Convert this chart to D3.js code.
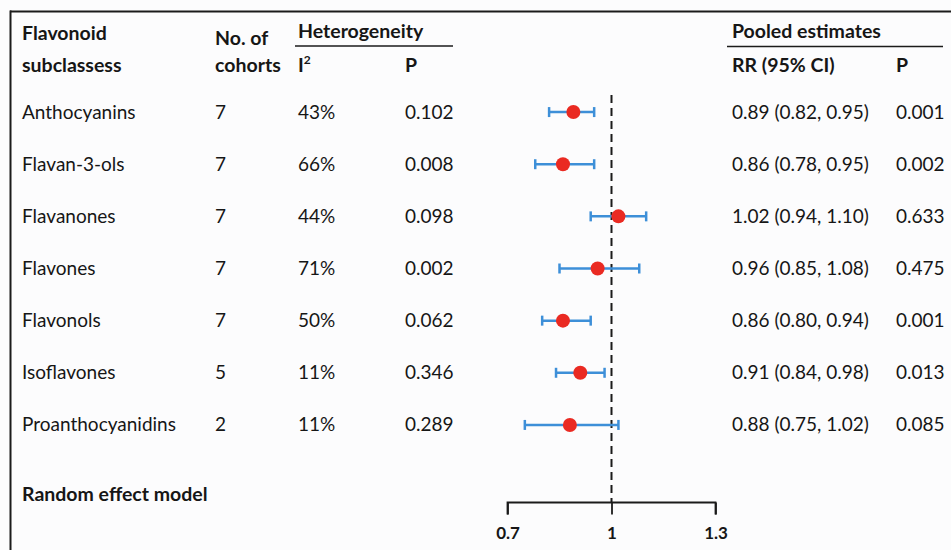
<!DOCTYPE html>
<html>
<head>
<meta charset="utf-8">
<script src="https://cdn.jsdelivr.net/npm/d3@7"></script>
<style>
  html, body { margin: 0; padding: 0; background: #fcfcfd; }
  svg { display: block; }
  text { font-family: Lato, "Open Sans", sans-serif; fill: #161616; }
</style>
</head>
<body>
<svg id="chart" width="951" height="550"></svg>
<script>
const subclasses = ["Anthocyanins", "Flavan-3-ols", "Flavanones", "Flavones", "Flavonols", "Isoflavones", "Proanthocyanidins"];
const cohorts = [7, 7, 7, 7, 7, 5, 2];
const i2 = ["43%", "66%", "44%", "71%", "50%", "11%", "11%"];
const hetP = ["0.102", "0.008", "0.098", "0.002", "0.062", "0.346", "0.289"];
const rr = [0.89, 0.86, 1.02, 0.96, 0.86, 0.91, 0.88];
const lower = [0.82, 0.78, 0.94, 0.85, 0.80, 0.84, 0.75];
const upper = [0.95, 0.95, 1.10, 1.08, 0.94, 0.98, 1.02];
const pooledP = ["0.001", "0.002", "0.633", "0.475", "0.001", "0.013", "0.085"];
const axisTicks = [0.7, 1, 1.3];

const svg = d3.select("#chart");
const fs = 19;
const fsb = 19.5;

const x = d3.scaleLinear().domain([0.7, 1.3]).range([507.5, 715.5]);
const y = d3.scaleBand().domain(subclasses).range([86, 451]).padding(0);
const yc = d => y(d) + y.bandwidth() / 2;

// frame (top and left border)
svg.append("line").attr("x1", 10).attr("x2", 951).attr("y1", 11.5).attr("y2", 11.5)
  .attr("stroke", "#1b1b1b").attr("stroke-width", 2);
svg.append("line").attr("x1", 10.5).attr("x2", 10.5).attr("y1", 10.5).attr("y2", 550)
  .attr("stroke", "#1b1b1b").attr("stroke-width", 2);

// column positions
const col = { name: 22, coh: 215, i2: 298, p: 405, rr: 732, pp: 896 };

// headers
const hdr = svg.append("g").attr("font-weight", "bold").attr("font-size", fsb);
hdr.append("text").attr("x", col.name).attr("y", 40).text("Flavonoid");
hdr.append("text").attr("x", col.name).attr("y", 72).text("subclassess");
hdr.append("text").attr("x", col.coh).attr("y", 45).text("No. of");
hdr.append("text").attr("x", col.coh).attr("y", 72).text("cohorts");
hdr.append("text").attr("x", col.i2).attr("y", 38).text("Heterogeneity");
const i2t = hdr.append("text").attr("x", col.i2).attr("y", 72);
i2t.append("tspan").text("I");
i2t.append("tspan").attr("dy", -8).attr("font-size", 12).text("2");
hdr.append("text").attr("x", col.p).attr("y", 72).text("P");
hdr.append("text").attr("x", col.rr).attr("y", 38).text("Pooled estimates");
hdr.append("text").attr("x", col.rr).attr("y", 72).text("RR (95% CI)");
hdr.append("text").attr("x", col.pp).attr("y", 72).text("P");

svg.append("line").attr("x1", 295).attr("x2", 453).attr("y1", 46).attr("y2", 46)
  .attr("stroke", "#1b1b1b").attr("stroke-width", 1.6);
svg.append("line").attr("x1", 727).attr("x2", 943).attr("y1", 46.5).attr("y2", 46.5)
  .attr("stroke", "#1b1b1b").attr("stroke-width", 1.6);

// table rows
const rows = svg.append("g").attr("font-size", fs);
subclasses.forEach((s, i) => {
  const by = yc(s) + 6.5;
  rows.append("text").attr("x", col.name).attr("y", by).text(s);
  rows.append("text").attr("x", col.coh).attr("y", by).text(cohorts[i]);
  rows.append("text").attr("x", col.i2).attr("y", by).text(i2[i]);
  rows.append("text").attr("x", col.p).attr("y", by).text(hetP[i]);
  rows.append("text").attr("x", col.rr).attr("y", by)
    .text(`${rr[i].toFixed(2)} (${lower[i].toFixed(2)}, ${upper[i].toFixed(2)})`);
  rows.append("text").attr("x", col.pp).attr("y", by).text(pooledP[i]);
});

svg.append("text").attr("x", col.name).attr("y", 501).attr("font-weight", "bold")
  .attr("font-size", fsb).text("Random effect model");

// reference dashed line
svg.append("line").attr("x1", x(1)).attr("x2", x(1)).attr("y1", 95).attr("y2", 502)
  .attr("stroke", "#1b1b1b").attr("stroke-width", 2).attr("stroke-dasharray", "8,5");

// error bars
const blue = "#3d8fd8";
const eb = svg.append("g").attr("stroke", blue).attr("stroke-width", 2.5);
subclasses.forEach((s, i) => {
  const cy = yc(s);
  eb.append("line").attr("x1", x(lower[i])).attr("x2", x(upper[i])).attr("y1", cy).attr("y2", cy);
  eb.append("line").attr("x1", x(lower[i])).attr("x2", x(lower[i])).attr("y1", cy - 5).attr("y2", cy + 5);
  eb.append("line").attr("x1", x(upper[i])).attr("x2", x(upper[i])).attr("y1", cy - 5).attr("y2", cy + 5);
});
svg.append("g").selectAll("circle").data(subclasses).join("circle")
  .attr("cx", (d, i) => x(rr[i])).attr("cy", d => yc(d)).attr("r", 7)
  .attr("fill", "#ea2a22");

// axis
const axisG = svg.append("g").attr("transform", "translate(0,502.5)")
  .call(d3.axisBottom(x).tickValues(axisTicks).tickFormat(d3.format("")).tickSize(12).tickPadding(12));
axisG.select(".domain").attr("d", `M${x(0.7)},12V0H${x(1.3)}V12`).attr("stroke", "#1b1b1b").attr("stroke-width", 1.8);
axisG.selectAll(".tick line").attr("stroke", "#1b1b1b").attr("stroke-width", 1.8);
axisG.selectAll(".tick text").attr("font-family", "Lato, sans-serif").attr("font-size", 17)
  .attr("font-weight", "bold").attr("fill", "#161616");
</script>
</body>
</html>
